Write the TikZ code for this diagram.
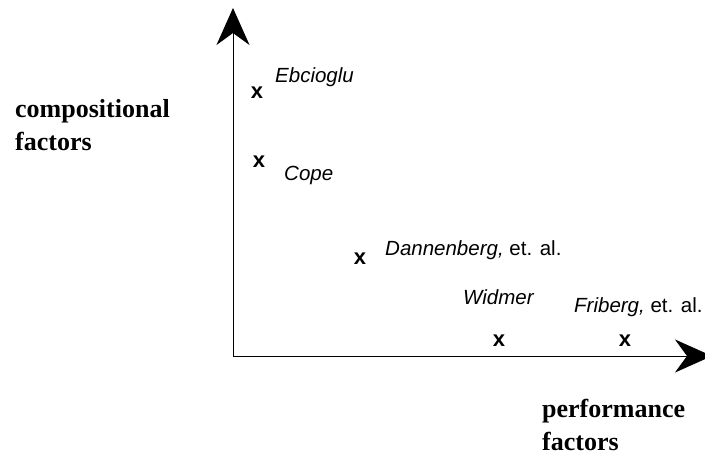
\documentclass[tikz,border=0pt]{standalone}
\usepackage{fontspec}
\setmainfont{Liberation Serif}
\setsansfont{Liberation Sans}
\usetikzlibrary{arrows.meta, positioning}

\tikzset{
	axis/.style={line width=0.8pt, -{Stealth[length=37pt, width=33pt, inset=12pt]}},
	mark x/.style={inner sep=0pt, font=\sffamily\bfseries\fontsize{22}{26}\selectfont},
	name lbl/.style={inner sep=0pt, anchor=base west, font=\sffamily\fontsize{20.5}{25}\selectfont},
	axis lbl/.style={inner sep=0pt, anchor=base west, align=left, font=\rmfamily\bfseries\fontsize{26}{33}\selectfont}
}

\begin{document}
\begin{tikzpicture}[x=1pt, y=-1pt]
	\useasboundingbox (0,0) rectangle (705,455);
	
	%// axes
	\coordinate (origin) at (233,356);
	\coordinate (ytip) at (233,8);
	\coordinate (xtip) at (712,356);
	\draw [axis] (origin) -- (ytip);
	\draw [axis] (origin) -- (xtip);
	
	%// axis labels (base = last line)
	\node [axis lbl] (comp) at (15,150) {compositional\\factors};
	\node [axis lbl] (perf) at (542,450) {performance\\factors};
	
	%// works
	\foreach \name/\px/\py in {ebc/257/93, cope/259/162, dann/360/259, widm/499/341, frib/625/341}
		\node [mark x] (x-\name) at (\px,\py) {x};
	
	\node [name lbl] (l-ebc) at (275,82) {\itshape Ebcioglu};
	\node [name lbl] (l-cope) at (284,180) {\itshape Cope};
	\node [name lbl] (l-dann) at (385,255) {\textit{Dannenberg,} et. al.};
	\node [name lbl] (l-widm) at (463,304) {\itshape Widmer};
	\node [name lbl] (l-frib) at (574,312) {\textit{Friberg,} et. al.};
\end{tikzpicture}
\end{document}
